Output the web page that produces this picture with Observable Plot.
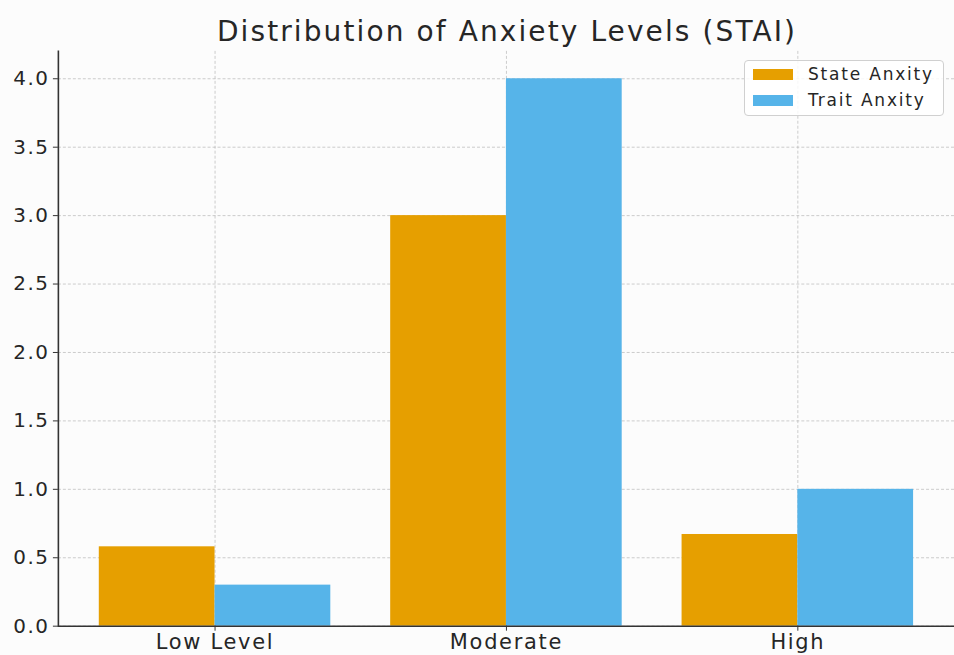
<!DOCTYPE html>
<html>
<head>
<meta charset="utf-8">
<script src="https://cdn.jsdelivr.net/npm/d3@7"></script>
<script src="https://cdn.jsdelivr.net/npm/@observablehq/plot@0.6"></script>
<style>
  html, body { margin: 0; padding: 0; background: #fcfcfc; }
  #wrap { position: relative; width: 954px; height: 655px; overflow: hidden; background: #fcfcfc; font-family: "DejaVu Sans", sans-serif; color: #262626; }
  #title { position: absolute; left: 58px; width: 898px; top: 10px; line-height: 44px; text-align: center; font-size: 28px; letter-spacing: 2.1px; color: #262626; white-space: nowrap; }
  #chart { position: absolute; left: 0; top: 0; }
  #chart svg text { letter-spacing: 1.5px; }
  #chart svg g[aria-label="x-axis tick label"] text { font-size: 21px; letter-spacing: 1.7px; }
  #legend { position: absolute; left: 744px; top: 60px; width: 200px; height: 56px; border: 1px solid #d0d0d0; border-radius: 4px; background: rgba(255,255,255,0.85); box-sizing: border-box; }
  .item { position: absolute; left: 0; height: 26px; width: 100%; }
  .sw { position: absolute; left: 8px; width: 40px; height: 11px; }
  .lbl { position: absolute; left: 63px; font-size: 17px; letter-spacing: 1.8px; color: #262626; white-space: nowrap; }
</style>
</head>
<body>
<div id="wrap">
  <div id="chart"></div>
  <div id="title"></div>
  <div id="legend"></div>
</div>
<script>
const titleText = "Distribution of Anxiety Levels (STAI)";
const categories = ["Low Level", "Moderate", "High"];
const seriesNames = ["State Anxity", "Trait Anxity"];
const stateValues = [0.58, 3.0, 0.67];
const traitValues = [0.30, 4.0, 1.0];
const yTicks = [0, 0.5, 1.0, 1.5, 2.0, 2.5, 3.0, 3.5, 4.0];
const colors = ["#E69F00", "#56B4E9"];

const data = [];
categories.forEach((c, i) => {
  data.push({category: c, series: seriesNames[0], value: stateValues[i]});
  data.push({category: c, series: seriesNames[1], value: traitValues[i]});
});

const W = 956, H = 655;
const mL = 58, mR = 0, mT = 51, mB = 28;
const xOpts = {type: "band", domain: categories, paddingInner: 0.2055, paddingOuter: 0.1404, round: false};
const bw = Plot.scale({x: {...xOpts, range: [mL, W - mR]}}).bandwidth;

const plot = Plot.plot({
  width: W, height: H,
  marginLeft: mL, marginRight: mR, marginTop: mT, marginBottom: mB,
  style: {fontFamily: "DejaVu Sans, sans-serif", fontSize: "20px", color: "#262626", background: "transparent", overflow: "visible"},
  x: {...xOpts, label: null},
  y: {domain: [0, 4.2], label: null},
  marks: [
    Plot.gridY(yTicks, {stroke: "#b0b0b0", strokeOpacity: 0.8, strokeWidth: 0.8, strokeDasharray: "3,2"}),
    Plot.gridX({stroke: "#b0b0b0", strokeOpacity: 0.8, strokeWidth: 0.8, strokeDasharray: "3,2"}),
    Plot.barY(data.filter(d => d.series === seriesNames[0]), {x: "category", y: "value", fill: colors[0], insetLeft: 0, insetRight: bw / 2}),
    Plot.barY(data.filter(d => d.series === seriesNames[1]), {x: "category", y: "value", fill: colors[1], insetLeft: bw / 2, insetRight: 0}),
    Plot.ruleY([0], {stroke: "#333", strokeWidth: 1.6}),
    Plot.frame({anchor: "left", stroke: "#333", strokeWidth: 1.6}),
    Plot.axisY(yTicks, {tickFormat: d3.format(".1f"), tickSize: 5, tickPadding: 4, stroke: "#333", fill: "#262626", label: null}),
    Plot.axisX({tickSize: 5, tickPadding: 3, stroke: "#333", fill: "#262626", label: null})
  ]
});
document.getElementById("chart").appendChild(plot);
document.getElementById("title").textContent = titleText;

const legend = document.getElementById("legend");
seriesNames.forEach((name, i) => {
  const item = document.createElement("div");
  item.className = "item";
  item.style.top = (2 + i * 26) + "px";
  const sw = document.createElement("div");
  sw.className = "sw";
  sw.style.background = colors[i];
  sw.style.top = "6px";
  const lbl = document.createElement("div");
  lbl.className = "lbl";
  lbl.style.top = "1px";
  lbl.textContent = name;
  item.appendChild(sw);
  item.appendChild(lbl);
  legend.appendChild(item);
});
</script>
</body>
</html>
